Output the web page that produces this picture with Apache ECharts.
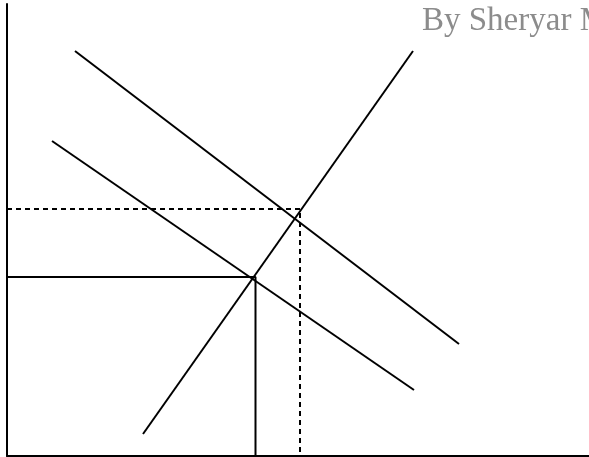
<!DOCTYPE html>
<html>
<head>
<meta charset="utf-8">
<script src="https://cdn.jsdelivr.net/npm/echarts@6/dist/echarts.min.js"></script>
<style>
  html, body { margin: 0; padding: 0; background: #fff; }
  #chart { width: 589px; height: 457px; }
</style>
</head>
<body>
<div id="chart"></div>
<script>
// quantity / price, origin at the axes corner
var demandHigh = [[68, 405], [452, 112]];
var demandLow = [[45, 315], [407, 66]];
var supply = [[136, 22], [406, 405]];
var eqLow = [[0, 179], [248.5, 179], [248.5, 0]];
var eqHigh = [[0, 247], [293, 247], [293, 0]];
var credit = 'By Sheryar M';

var chart = echarts.init(document.getElementById('chart'));

function seg(data, dashed) {
  return {
    type: 'line',
    data: data,
    showSymbol: false,
    silent: true,
    lineStyle: { color: '#000', width: 2, type: dashed ? [5, 4] : 'solid' }
  };
}

var option = {
  animation: false,
  grid: { left: 7, right: 0, top: 4, bottom: 1 },
  xAxis: {
    type: 'value', min: 0, max: 582,
    axisLine: { show: true, lineStyle: { color: '#000', width: 2 } },
    axisTick: { show: false }, axisLabel: { show: false }, splitLine: { show: false }
  },
  yAxis: {
    type: 'value', min: 0, max: 452,
    axisLine: { show: true, lineStyle: { color: '#000', width: 2 } },
    axisTick: { show: false }, axisLabel: { show: false }, splitLine: { show: false }
  },
  graphic: [{
    type: 'text',
    left: 422, top: 5,
    style: { text: credit, font: '33px "Liberation Serif", serif', fill: '#8c8c8c' }
  }],
  series: [
    seg(demandHigh),
    seg(demandLow),
    seg(supply),
    seg(eqLow),
    seg(eqHigh, true)
  ]
};
chart.setOption(option);
</script>
</body>
</html>
